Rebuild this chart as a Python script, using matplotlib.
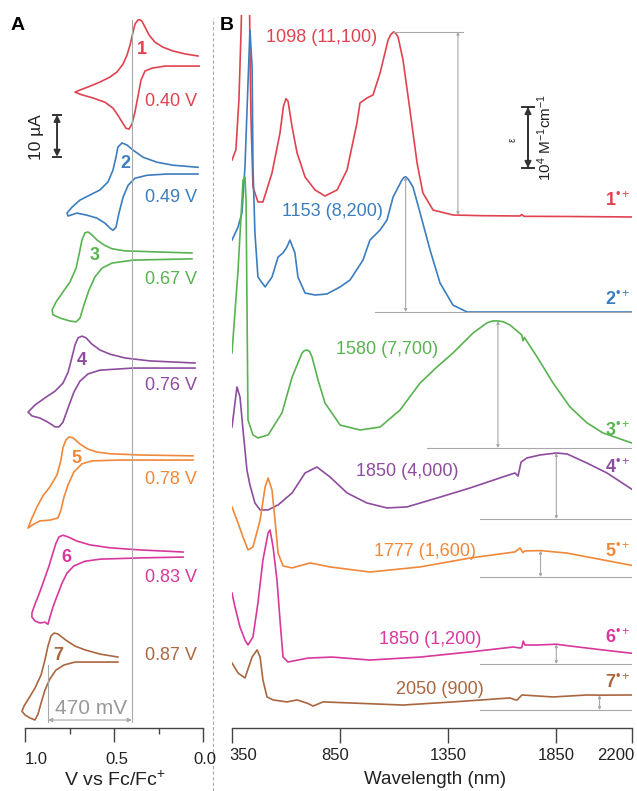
import matplotlib
matplotlib.use("Agg")
import matplotlib.pyplot as plt
from matplotlib.lines import Line2D
from matplotlib.patches import FancyArrowPatch

plt.rcParams['font.family'] = ['Liberation Sans', 'DejaVu Sans']
plt.rcParams['mathtext.fontset'] = 'custom'
plt.rcParams['mathtext.rm'] = 'Liberation Sans'
plt.rcParams['mathtext.it'] = 'Liberation Sans:italic'
plt.rcParams['mathtext.bf'] = 'Liberation Sans:bold'

colors = ['#e0434f', '#3c7dbf', '#58b350', '#8e4c9e', '#f0883a', '#d8389c', '#a9663f']
grey = '#a8a8a8'

# ---- cyclic voltammograms (potential in V vs Fc/Fc+, current in uA) ----
cv1_v = [0.028, 0.101, 0.169, 0.225, 0.270, 0.303, 0.326, 0.343, 0.354, 0.365, 0.382, 0.393,
         0.410, 0.427, 0.449, 0.483, 0.522, 0.579, 0.635, 0.691, 0.719,
         0.691, 0.618, 0.551, 0.506, 0.478, 0.455, 0.433, 0.416, 0.399, 0.382, 0.365, 0.348,
         0.326, 0.287, 0.213, 0.022]
cv1_i = [1.2, 1.7, 2.4, 3.3, 4.5, 6.2, 8.1, 9.5, 9.8, 9.8, 8.8, 6.9,
         3.8, 1.4, -0.7, -2.6, -3.8, -5.0, -6.0, -6.9, -7.4,
         -7.9, -8.8, -9.8, -11.2, -12.9, -14.5, -16.0, -16.2, -15.0, -12.1, -8.3, -4.5,
         -2.4, -1.7, -1.2, -1.2]

cv2_v = [0.028, 0.169, 0.258, 0.337, 0.393, 0.427, 0.455, 0.478, 0.489, 0.506, 0.534, 0.579,
         0.635, 0.691, 0.736, 0.764,
         0.758, 0.708, 0.652, 0.596, 0.551, 0.522, 0.506, 0.489, 0.472, 0.449, 0.421, 0.382,
         0.315, 0.202, 0.028]
cv2_i = [0.8, 1.3, 2.0, 3.2, 4.9, 6.1, 6.6, 5.6, 3.2, 0.1, -2.7, -4.6,
         -5.8, -7.0, -8.7, -10.1,
         -10.8, -10.1, -10.6, -11.3, -12.5, -13.7, -14.2, -13.5, -10.1, -6.3, -3.5, -1.8,
         -1.1, -0.8, -0.8]

cv3_v = [0.062, 0.298, 0.438, 0.511, 0.556, 0.596, 0.624, 0.646, 0.663, 0.680, 0.697, 0.713,
         0.747, 0.787, 0.826, 0.848,
         0.843, 0.803, 0.747, 0.713, 0.691, 0.669, 0.640, 0.607, 0.567, 0.511, 0.393, 0.062]
cv3_i = [0.7, 1.0, 1.2, 1.7, 2.6, 3.8, 5.0, 5.7, 5.5, 3.8, 0.2, -2.9,
         -6.2, -8.6, -11.0, -12.9,
         -14.0, -14.8, -15.5, -15.7, -14.8, -11.7, -8.1, -5.0, -2.9, -1.7, -1.0, -0.7]

cv4_v = [0.045, 0.298, 0.438, 0.522, 0.579, 0.624, 0.657, 0.680, 0.702, 0.719, 0.736, 0.758,
         0.787, 0.831, 0.888, 0.944, 0.983,
         0.961, 0.916, 0.871, 0.831, 0.809, 0.787, 0.758, 0.725, 0.691, 0.646, 0.579, 0.393,
         0.045]
cv4_i = [0.6, 1.1, 1.8, 2.7, 3.7, 5.1, 6.6, 7.0, 6.6, 4.9, 2.0, -1.6,
         -4.2, -6.1, -7.7, -9.4, -11.1,
         -12.0, -12.5, -13.5, -14.6, -14.6, -13.5, -10.1, -6.3, -3.7, -2.0, -1.1, -0.6,
         -0.6]

cv5_v = [0.056, 0.354, 0.522, 0.596, 0.646, 0.691, 0.730, 0.753, 0.770, 0.787, 0.798, 0.820,
         0.860, 0.899, 0.933, 0.961, 0.983,
         0.961, 0.916, 0.860, 0.815, 0.798, 0.781, 0.758, 0.725, 0.680, 0.624, 0.466, 0.056]
cv5_i = [0.5, 0.7, 1.0, 1.4, 2.1, 3.3, 4.8, 5.0, 4.3, 2.4, -0.5, -4.0,
         -6.9, -9.0, -11.7, -14.3, -16.7,
         -16.0, -15.0, -14.8, -14.3, -12.4, -9.3, -6.4, -3.3, -1.4, -0.7, -0.5, -0.5]

cv6_v = [0.112, 0.354, 0.522, 0.635, 0.708, 0.758, 0.787, 0.809, 0.826, 0.843, 0.865, 0.893,
         0.921, 0.944, 0.961, 0.961,
         0.944, 0.916, 0.888, 0.871, 0.860, 0.843, 0.820, 0.792, 0.764, 0.725, 0.663, 0.579,
         0.354, 0.112]
cv6_i = [0.6, 1.1, 1.6, 2.3, 3.2, 4.2, 4.6, 4.2, 2.7, 0.4, -2.7, -6.1,
         -9.4, -11.8, -13.9, -14.9,
         -15.8, -16.3, -16.1, -16.6, -14.9, -12.5, -9.9, -6.8, -4.4, -2.7, -1.6, -1.1,
         -0.8, -0.6]

cv7_v = [0.478, 0.579, 0.663, 0.719, 0.770, 0.815, 0.837, 0.854, 0.871, 0.888, 0.910, 0.944,
         0.978, 1.006, 1.017,
         1.000, 0.972, 0.944, 0.927, 0.910, 0.888, 0.860, 0.826, 0.781, 0.719, 0.579, 0.478]
cv7_i = [0.6, 1.3, 2.3, 3.2, 4.6, 6.1, 6.3, 5.6, 3.2, -0.1, -3.7, -6.8,
         -9.2, -11.1, -12.3,
         -13.2, -13.9, -14.4, -13.0, -10.4, -7.3, -4.6, -2.5, -1.3, -0.6, -0.6, -0.6]

cv_offset = [158.8, 132.7, 112.4, 86.3, 64.3, 41.3, 16.3]
e_half = [0.40, 0.49, 0.67, 0.76, 0.78, 0.83, 0.87]

# ---- NIR absorption of the radical cations (nm, M^-1 cm^-1) ----
uv1_nm = [350, 364, 368, 382, 392, 401, 429, 433, 438, 447, 470, 493, 535, 572, 588, 600, 609,
          628, 651, 688, 734, 780, 836, 882, 928, 942, 974, 1002, 1035, 1072, 1085, 1098, 1108,
          1118, 1141, 1173, 1206, 1233, 1280, 1372, 1500, 1682, 1690, 1700, 1900, 2200]
uv1_eps = [3330, 3820, 3940, 6970, 11210, 16000, 16000, 10000, 5760, 1700, 790, 790, 2550, 4970,
           6600, 7050, 6900, 5330, 3760, 2300, 1520, 1150, 1520, 2730, 5580, 6790, 7090, 7270,
           8610, 10610, 10950, 11100, 11000, 10790, 9390, 6360, 3150, 1330, 300, 0, -40, -60,
           30, -80, -90, -120]

uv2_nm = [350, 378, 396, 410, 424, 433, 443, 447, 456, 470, 503, 535, 563, 586, 604, 618, 641, 655,
          688, 734, 789, 850, 896, 956, 988, 1035, 1067, 1095, 1136, 1145, 1153, 1165, 1187, 1220,
          1266, 1312, 1372, 1437, 1700, 2200]
uv2_eps = [4360, 5150, 6000, 8790, 13880, 17090, 14850, 8790, 4790, 2120, 1520, 2120, 3330, 3580,
           3940, 4360, 3580, 2120, 1150, 1030, 1090, 1520, 1940, 3150, 4360, 4970, 5580, 6970,
           8000, 8150, 8200, 8050, 7580, 6000, 3760, 1760, 420, 0, 0, 0]

uv3_nm = [350, 378, 401, 410, 415, 424, 447, 470, 517, 581, 628, 674, 685, 697, 709, 720, 748, 780,
          850, 942, 1035, 1127, 1220, 1298, 1372, 1465, 1529, 1555, 1580, 1605, 1636, 1690, 1696,
          1702, 1761, 1835, 1913, 1992, 2066, 2200]
uv3_eps = [5760, 10790, 16240, 16420, 15030, 1700, 790, 610, 790, 2120, 4300, 5760, 5900, 5940,
           5850, 5520, 4120, 2730, 1390, 1090, 1270, 2300, 3940, 4910, 5760, 6970, 7580, 7700,
           7700, 7650, 7450, 6850, 6500, 6700, 5520, 3940, 2490, 1520, 910, 300]

uv4_nm = [350, 373, 387, 401, 419, 433, 456, 480, 517, 563, 628, 688, 743, 803, 882, 974, 1067,
          1159, 1298, 1451, 1603, 1659, 1673, 1687, 1714, 1775, 1850, 1900, 1992, 2084, 2200]
uv4_eps = [5580, 8000, 7390, 5390, 2970, 2060, 970, 550, 550, 850, 1580, 2790, 3150, 2550, 1580,
           970, 670, 730, 1270, 1880, 2550, 2790, 2600, 3450, 3700, 3880, 4000, 3940, 3390, 2790,
           1800]

uv5_nm = [350, 378, 401, 424, 447, 480, 503, 517, 535, 549, 563, 586, 628, 711, 803, 988, 1220,
          1451, 1659, 1682, 1695, 1705, 1777, 1899, 2020, 2200]
uv5_eps = [4240, 3270, 2420, 1640, 1820, 3450, 5450, 6000, 5270, 3450, 1450, 670, 550, 850, 610,
           300, 610, 1150, 1520, 1760, 1480, 1580, 1600, 1450, 1150, 700]

uv6_nm = [350, 364, 387, 410, 424, 447, 470, 493, 517, 526, 540, 558, 572, 586, 609, 702, 813,
          988, 1220, 1451, 1650, 1682, 1690, 1697, 1705, 1761, 1850, 1913, 2066, 2200]
uv6_eps = [4300, 3450, 2240, 1450, 1150, 1640, 3700, 6300, 7940, 8120, 7090, 5090, 2670, 420,
           120, 360, 420, 240, 420, 730, 1030, 970, 1000, 1390, 1150, 1150, 1200, 1090, 850, 650]

uv7_nm = [350, 378, 410, 443, 466, 480, 493, 512, 540, 604, 651, 700, 725, 771, 910, 1141, 1372,
          1636, 1660, 1668, 1691, 1835, 1992, 2050, 2200]
uv7_eps = [2850, 2240, 1940, 3210, 3640, 3210, 1820, 790, 610, 490, 610, 400, 240, 490, 420, 300,
           490, 730, 620, 600, 910, 790, 910, 900, 910]

uv_offset = [31091, 25212, 16970, 12667, 9152, 3879, 1091]
lam_max = [1098, 1153, 1580, 1850, 1777, 1850, 2050]
eps_max = [11100, 8200, 7700, 4000, 1600, 1200, 900]
base_start = [1098, 1011, 1252, 1497, 1497, 1497, 1497]

cv_ticks = [1.0, 0.5, 0.0]
nm_ticks = [350, 850, 1350, 1850, 2200]

cvs = [(cv1_v, cv1_i), (cv2_v, cv2_i), (cv3_v, cv3_i), (cv4_v, cv4_i),
       (cv5_v, cv5_i), (cv6_v, cv6_i), (cv7_v, cv7_i)]
uvs = [(uv1_nm, uv1_eps), (uv2_nm, uv2_eps), (uv3_nm, uv3_eps), (uv4_nm, uv4_eps),
       (uv5_nm, uv5_eps), (uv6_nm, uv6_eps), (uv7_nm, uv7_eps)]

W, H = 637, 791
fig = plt.figure(figsize=(W / 100, H / 100), dpi=100)


def fx(px):
    return px / W


def fy(py):
    return 1 - py / H


axA = fig.add_axes([fx(25), fy(728), 178 / W, 713 / H])
axB = fig.add_axes([fx(232), fy(728), 400 / W, 713 / H])

for ax in (axA, axB):
    for s in ('left', 'right', 'top'):
        ax.spines[s].set_visible(False)
    ax.spines['bottom'].set_color('#444444')
    ax.spines['bottom'].set_linewidth(1.0)
    ax.set_yticks([])
    ax.patch.set_alpha(0)

# panel A: stacked CVs
axA.set_xlim(1.0, 0.0)
axA.set_ylim(0, 713 / 4.2)
for k, (v, i) in enumerate(cvs):
    axA.plot(v, [c + cv_offset[k] for c in i], color=colors[k], lw=1.2,
             solid_joinstyle='round', clip_on=False)

axA.set_xticks(cv_ticks)
axA.set_xticklabels([])
axA.set_xticks([0.75, 0.25], minor=True)
axA.tick_params(axis='x', which='major', direction='out', length=10, width=1, color='#444444')
axA.tick_params(axis='x', which='minor', direction='out', length=4, width=1, color='#444444')
for t, px in zip(cv_ticks, [36, 117, 205]):
    fig.text(fx(px), fy(760), '%.1f' % t, fontsize=12, ha='center', va='center', color='#222222')
fig.text(fx(115), fy(780), 'V vs Fc/Fc$^{+}$', fontsize=14, ha='center', va='center',
         color='#222222')

# E1/2 of 1 and of 7, with the 470 mV spread between them
axA.plot([e_half[0], e_half[0]], [1.4, 168.6], color=grey, lw=0.8, clip_on=False)
axA.plot([e_half[6], e_half[6]], [1.4, 15.0], color=grey, lw=0.8, clip_on=False)
axA.annotate('', xy=(e_half[0], 1.9), xytext=(e_half[6], 1.9),
             arrowprops=dict(arrowstyle='<|-|>', color=grey, lw=0.8, mutation_scale=6,
                             shrinkA=0, shrinkB=0))
fig.text(fx(91), fy(708), '%d mV' % round((e_half[6] - e_half[0]) * 1000), color='#999999',
         fontsize=15, ha='center', va='center')

# 10 uA scale bar
sb_v, sb_y = 0.82, 136.0
axA.annotate('', xy=(sb_v, sb_y + 10), xytext=(sb_v, sb_y),
             arrowprops=dict(arrowstyle='<|-|>', color='#333333', lw=1.4, mutation_scale=9,
                             shrinkA=0, shrinkB=0))
for yy in (sb_y, sb_y + 10):
    axA.plot([sb_v - 0.025, sb_v + 0.025], [yy, yy], color='#333333', lw=1.4, clip_on=False)
fig.text(fx(36), fy(137), '10 µA', rotation=90, fontsize=12.5, ha='center', va='center',
         color='#222222')

num_pos = [(142, 50), (125, 164), (95, 256), (82, 360), (76, 458), (66, 558), (58, 655)]
pot_y = [102, 197, 280, 385, 480, 578, 656]
for k in range(7):
    fig.text(fx(num_pos[k][0]), fy(num_pos[k][1]), str(k + 1), color=colors[k], fontsize=13,
             fontweight='bold', ha='center', va='center')
    fig.text(fx(171), fy(pot_y[k]), '%.2f V' % e_half[k], color=colors[k], fontsize=13,
             ha='center', va='center')

# panel B: stacked spectra
axB.set_xlim(350, 2200)
axB.set_ylim(0, 713 / 0.0165)
for k, (nm, eps) in enumerate(uvs):
    axB.plot(nm, [e + uv_offset[k] for e in eps], color=colors[k], lw=1.2,
             solid_joinstyle='round')

for k in range(7):
    base = uv_offset[k]
    top = base + eps_max[k]
    if k == 0:
        ax_x = 1395
        axB.plot([lam_max[k], 1419], [top, top], color=grey, lw=0.8)
    else:
        ax_x = lam_max[k]
        axB.plot([base_start[k], 2200], [base, base], color=grey, lw=0.8)
    axB.annotate('', xy=(ax_x, top), xytext=(ax_x, base),
                 arrowprops=dict(arrowstyle='<|-|>', color=grey, lw=0.8, mutation_scale=4,
                                 shrinkA=0, shrinkB=0))

axB.set_xticks(nm_ticks)
axB.set_xticklabels([])
axB.tick_params(axis='x', direction='out', length=11, width=1, color='#444444')
for t, px, ha in zip(nm_ticks, [229, 335, 448, 556, 634],
                     ['left', 'center', 'center', 'center', 'right']):
    fig.text(fx(px), fy(755), str(t), fontsize=12, ha=ha, va='center', color='#222222')
fig.text(fx(435), fy(780), 'Wavelength (nm)', fontsize=13.5, ha='center', va='center',
         color='#222222')

peak_pos = [(322, 38), (332, 212), (387, 349), (407, 472), (425, 552), (430, 639), (440, 690)]
tag_y = [201, 300, 431, 468, 552, 638, 683]
for k in range(7):
    fig.text(fx(peak_pos[k][0]), fy(peak_pos[k][1]),
             '%d (%s)' % (lam_max[k], format(eps_max[k], ',')),
             color=colors[k], fontsize=13, ha='center', va='center')
    fig.text(fx(630), fy(tag_y[k]), '%d$^{\u2022+}$' % (k + 1), color=colors[k], fontsize=13,
             fontweight='bold', ha='right', va='center')

# epsilon scale bar
bx, by0, by1 = fx(528), fy(168), fy(107)
fig.add_artist(Line2D([bx, bx], [by0, by1], color='#333333', lw=1.4))
for yy in (by0, by1):
    fig.add_artist(Line2D([bx - 6 / W, bx + 6 / W], [yy, yy], color='#333333', lw=1.4))
for yy in (by0, by1):
    fig.add_artist(FancyArrowPatch((bx, (by0 + by1) / 2), (bx, yy), transform=fig.transFigure,
                                   arrowstyle='-|>', mutation_scale=9, color='#333333', lw=1.4,
                                   shrinkA=0, shrinkB=0))
fig.text(fx(513), fy(140), '\u03b5', rotation=90, fontsize=7, ha='center', va='center',
         color='#333333')
fig.text(fx(545), fy(137), '10$^{4}$ M$^{-1}$cm$^{-1}$', rotation=90, fontsize=11,
         ha='center', va='center', color='#222222')

# panel letters and divider
fig.text(fx(18), fy(25), 'A', fontsize=14, fontweight='bold', ha='center', va='center')
fig.text(fx(227), fy(25), 'B', fontsize=14, fontweight='bold', ha='center', va='center')
fig.add_artist(Line2D([fx(213), fx(213)], [0, fy(18)], color='#aaaaaa', lw=0.8,
                      linestyle=(0, (3, 2))))

fig.savefig('out.png', dpi=100)
